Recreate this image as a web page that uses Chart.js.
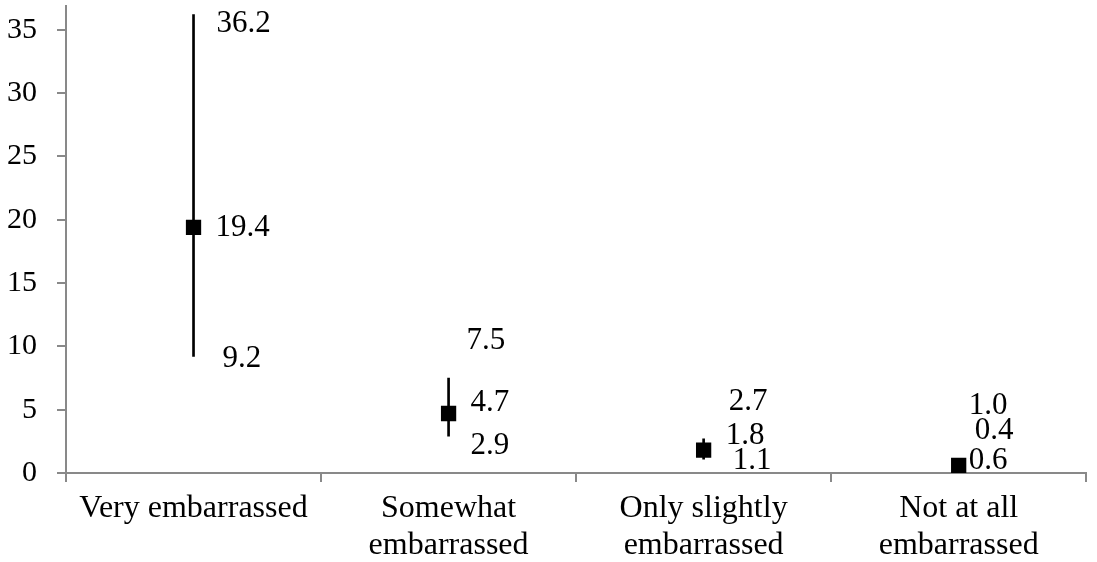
<!DOCTYPE html>
<html>
<head>
<meta charset="utf-8">
<script src="https://cdn.jsdelivr.net/npm/chart.js@4"></script>
<style>
html,body{margin:0;padding:0;background:#fff;overflow:hidden;width:1097px;height:562px;}
#wrap{width:1097px;height:567px;position:relative;top:-5px;}
</style>
</head>
<body>
<div id="wrap"><canvas id="c"></canvas></div>
<script>
// ---- data ----
const categories = [["Very embarrassed"], ["Somewhat", "embarrassed"], ["Only slightly", "embarrassed"], ["Not at all", "embarrassed"]];
const meanValues = [19.4, 4.7, 1.8, 0.6];
const lowValues  = [9.2, 2.9, 1.1, 0.4];
const highValues = [36.2, 7.5, 2.7, 1.0];
const yTickValues = [0, 5, 10, 15, 20, 25, 30, 35];

// ---- label style (pixel offsets, not data) ----
const labelStyle = {
  high: { dx: [23, 18, 25, 10], dy: [9, -37, -37, -54] },
  mean: { dx: [22, 22, 22, 10], dy: [0, -11, -14, -5] },
  low:  { dx: [29, 22, 29, 16], dy: [2, 10, 2, -37] }
};

const FONT = '"Liberation Serif", "Times New Roman", serif';
const GRAY = '#898989';

const labelPlugin = {
  id: 'valueLabels',
  afterDatasetsDraw(chart) {
    const ctx = chart.ctx;
    const xs = chart.scales.x, ys = chart.scales.y;
    ctx.save();
    ctx.font = '31px ' + FONT;
    ctx.fillStyle = '#000';
    ctx.textAlign = 'left';
    ctx.textBaseline = 'middle';
    const groups = [['high', highValues], ['mean', meanValues], ['low', lowValues]];
    for (let i = 0; i < categories.length; i++) {
      const px = xs.getPixelForValue(i);
      for (const [key, arr] of groups) {
        const st = labelStyle[key];
        ctx.fillText(arr[i].toFixed(1), px + st.dx[i], ys.getPixelForValue(arr[i]) + st.dy[i]);
      }
    }
    ctx.restore();
  }
};

new Chart(document.getElementById('c'), {
  data: {
    labels: categories,
    datasets: [
      {
        type: 'bar',
        data: lowValues.map((v, i) => [v, highValues[i]]),
        backgroundColor: '#000',
        borderWidth: 0,
        barThickness: 2,
        order: 2
      },
      {
        type: 'line',
        data: meanValues,
        showLine: false,
        pointStyle: 'rect',
        pointRadius: 10.8,
        pointHoverRadius: 10.8,
        pointBackgroundColor: '#000',
        pointBorderWidth: 0,
        order: 1
      }
    ]
  },
  options: {
    responsive: true,
    maintainAspectRatio: false,
    animation: false,
    devicePixelRatio: 1,
    layout: { padding: { top: 0, right: 3, left: 0, bottom: 0 } },
    plugins: { legend: { display: false }, tooltip: { enabled: false } },
    scales: {
      x: {
        type: 'category',
        offset: true,
        grid: { offset: true, drawOnChartArea: false, drawTicks: true, tickLength: 9, color: GRAY, lineWidth: 2 },
        border: { display: true, color: GRAY, width: 2 },
        ticks: { color: '#000', font: { family: FONT, size: 32, lineHeight: 1.13 }, padding: 9, maxRotation: 0, autoSkip: false },
        afterFit(scale) { scale.height = 89; scale.paddingLeft = 0; scale.paddingRight = 0; }
      },
      y: {
        min: 0,
        max: 36.9,
        grid: { drawOnChartArea: false, drawTicks: true, tickLength: 9, color: GRAY, lineWidth: 2 },
        border: { display: true, color: GRAY, width: 2 },
        ticks: { color: '#000', font: { family: FONT, size: 30 }, padding: 20, stepSize: 5 },
        afterBuildTicks(scale) { scale.ticks = yTickValues.map(v => ({ value: v })); },
        afterFit(scale) { scale.width = 66; scale.paddingTop = 0; scale.paddingBottom = 0; }
      }
    }
  },
  plugins: [labelPlugin]
});
</script>
</body>
</html>
